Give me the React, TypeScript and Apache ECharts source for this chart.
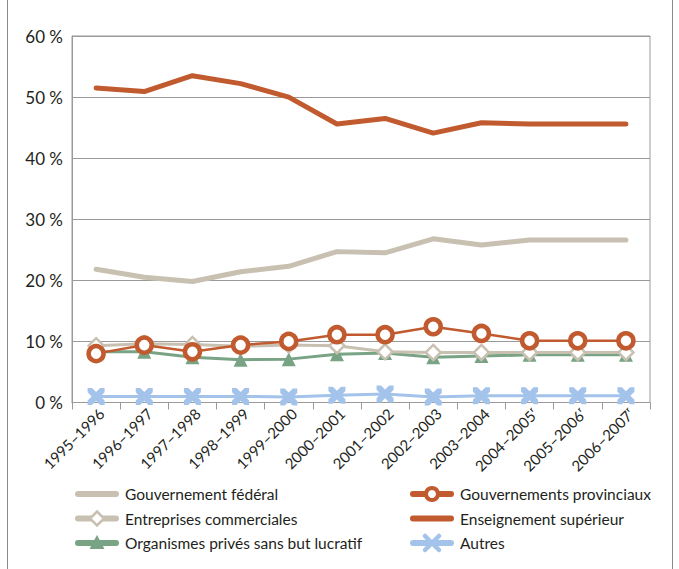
import React, { useEffect, useRef } from "react";
import * as echarts from "echarts";

// Fiscal years on the category axis
const years = [
  "1995–1996", "1996–1997", "1997–1998", "1998–1999", "1999–2000", "2000–2001",
  "2001–2002", "2002–2003", "2003–2004", "2004–2005ʳ", "2005–2006ʳ", "2006–2007ʳ",
];

// Share of funding by sector (%)
const federal = [21.8, 20.5, 19.8, 21.4, 22.3, 24.7, 24.5, 26.8, 25.8, 26.6, 26.6, 26.6];
const provincial = [8.0, 9.4, 8.3, 9.4, 10.0, 11.1, 11.1, 12.4, 11.3, 10.1, 10.1, 10.1];
const business = [9.3, 9.6, 9.5, 9.2, 9.4, 9.3, 8.3, 8.2, 8.2, 8.2, 8.2, 8.2];
const higherEd = [51.5, 50.9, 53.5, 52.2, 50.0, 45.6, 46.5, 44.1, 45.8, 45.6, 45.6, 45.6];
const nonProfit = [8.3, 8.3, 7.4, 7.0, 7.1, 7.9, 8.1, 7.4, 7.6, 7.8, 7.8, 7.8];
const others = [1.0, 1.0, 1.0, 1.0, 0.9, 1.2, 1.4, 0.9, 1.1, 1.1, 1.1, 1.1];

const yTicks = [0, 10, 20, 30, 40, 50, 60];

const S_FEDERAL = "Gouvernement fédéral";
const S_PROVINCIAL = "Gouvernements provinciaux";
const S_BUSINESS = "Entreprises commerciales";
const S_HIGHER_ED = "Enseignement supérieur";
const S_NON_PROFIT = "Organismes privés sans but lucratif";
const S_OTHERS = "Autres";

const RUST = "#c15a2e";
const BEIGE = "#c8c0b1";
const GREEN = "#79a385";
const BLUE = "#a3c3ea";
const TEXT = "#231f20";
const FONT = "Lato, 'Open Sans', sans-serif";

const X_SYMBOL =
  "path://M0,0 L2.6,0 L5,2.4 L7.4,0 L10,0 L10,2.6 L7.6,5 L10,7.4 L10,10 L7.4,10 L5,7.6 L2.6,10 L0,10 L0,7.4 L2.4,5 L0,2.6 Z";

type Marker = "none" | "circle" | "diamond" | "triangle" | "cross";

// Legend entries, laid out in two columns of three rows
const legendEntries: { name: string; color: string; marker: Marker; col: number; row: number }[] = [
  { name: S_FEDERAL, color: BEIGE, marker: "none", col: 0, row: 0 },
  { name: S_BUSINESS, color: BEIGE, marker: "diamond", col: 0, row: 1 },
  { name: S_NON_PROFIT, color: GREEN, marker: "triangle", col: 0, row: 2 },
  { name: S_PROVINCIAL, color: RUST, marker: "circle", col: 1, row: 0 },
  { name: S_HIGHER_ED, color: RUST, marker: "none", col: 1, row: 1 },
  { name: S_OTHERS, color: BLUE, marker: "cross", col: 1, row: 2 },
];

function legendGraphics() {
  const colX = [76, 411];
  const rowY = [494, 518.5, 543];
  const out: any[] = [];
  for (const e of legendEntries) {
    const x0 = colX[e.col];
    const y = rowY[e.row];
    const cx = x0 + 21;
    out.push({
      type: "line",
      shape: { x1: x0 + 2, y1: y, x2: x0 + 40, y2: y },
      style: { stroke: e.color, lineWidth: 6, lineCap: "round" },
    });
    if (e.marker === "circle") {
      out.push({
        type: "circle",
        shape: { cx, cy: y, r: 6 },
        style: { fill: "#ffffff", stroke: e.color, lineWidth: 4 },
      });
    } else if (e.marker === "diamond") {
      out.push({
        type: "polygon",
        shape: { points: [[cx, y - 7], [cx + 7, y], [cx, y + 7], [cx - 7, y]] },
        style: { fill: "#ffffff", stroke: e.color, lineWidth: 2.5 },
      });
    } else if (e.marker === "triangle") {
      out.push({
        type: "polygon",
        shape: { points: [[cx, y - 8], [cx + 7.5, y + 6], [cx - 7.5, y + 6]] },
        style: { fill: e.color },
      });
    } else if (e.marker === "cross") {
      out.push({
        type: "line",
        shape: { x1: cx - 7, y1: y - 7, x2: cx + 7, y2: y + 7 },
        style: { stroke: e.color, lineWidth: 4.5, lineCap: "round" },
      });
      out.push({
        type: "line",
        shape: { x1: cx - 7, y1: y + 7, x2: cx + 7, y2: y - 7 },
        style: { stroke: e.color, lineWidth: 4.5, lineCap: "round" },
      });
    }
    out.push({
      type: "text",
      x: x0 + 49,
      y,
      style: {
        text: e.name,
        fontFamily: FONT,
        fontSize: 15.5,
        fill: TEXT,
        verticalAlign: "middle",
        align: "left",
      },
    });
  }
  return out;
}

export default function App() {
  const ref = useRef<HTMLDivElement>(null);

  useEffect(() => {
    if (!ref.current) return;
    const chart = echarts.init(ref.current, null, { renderer: "svg" });

    chart.setOption({
      animation: false,
      backgroundColor: "#ffffff",
      grid: {
        left: 72,
        right: 29,
        top: 36,
        bottom: 166.5,
        show: true,
        borderColor: "#9a9a9a",
        borderWidth: 1,
      },
      xAxis: {
        type: "category",
        data: years,
        boundaryGap: true,
        axisLine: { lineStyle: { color: "#9a9a9a", width: 1 } },
        axisTick: { show: true, interval: 0, length: 7, lineStyle: { color: "#9a9a9a" } },
        axisLabel: {
          interval: 0,
          rotate: 45,
          margin: 3,
          verticalAlign: "top",
          fontFamily: FONT,
          fontSize: 15,
          color: TEXT,
        },
      },
      yAxis: {
        type: "value",
        min: yTicks[0],
        max: yTicks[yTicks.length - 1],
        interval: 10,
        axisLine: { show: true, lineStyle: { color: "#9a9a9a", width: 1 } },
        axisTick: { show: false },
        splitLine: { lineStyle: { color: "#9a9a9a", width: 1 } },
        axisLabel: {
          margin: 9,
          fontFamily: FONT,
          fontSize: 17,
          color: TEXT,
          formatter: (v: number) => `${v} %`,
        },
      },
      graphic: [
        { type: "line", shape: { x1: 7.5, y1: 0, x2: 7.5, y2: 569 }, style: { stroke: "#8a8a8a", lineWidth: 1 } },
        { type: "line", shape: { x1: 672.5, y1: 0, x2: 672.5, y2: 569 }, style: { stroke: "#8a8a8a", lineWidth: 1 } },
        ...legendGraphics(),
      ],
      series: [
        {
          name: S_OTHERS,
          type: "line",
          data: others,
          z: 2,
          symbol: X_SYMBOL,
          symbolSize: 17,
          itemStyle: { color: BLUE },
          lineStyle: { color: BLUE, width: 3 },
        },
        {
          name: S_NON_PROFIT,
          type: "line",
          data: nonProfit,
          z: 3,
          symbol: "triangle",
          symbolSize: 14,
          itemStyle: { color: GREEN },
          lineStyle: { color: GREEN, width: 3 },
        },
        {
          name: S_BUSINESS,
          type: "line",
          data: business,
          z: 4,
          symbol: "diamond",
          symbolSize: 15,
          itemStyle: { color: "#ffffff", borderColor: BEIGE, borderWidth: 2.5 },
          lineStyle: { color: BEIGE, width: 3 },
        },
        {
          name: S_FEDERAL,
          type: "line",
          data: federal,
          z: 5,
          symbol: "none",
          itemStyle: { color: BEIGE },
          lineStyle: { color: BEIGE, width: 5, cap: "round", join: "round" },
        },
        {
          name: S_HIGHER_ED,
          type: "line",
          data: higherEd,
          z: 6,
          symbol: "none",
          itemStyle: { color: RUST },
          lineStyle: { color: RUST, width: 5, cap: "round", join: "round" },
        },
        {
          name: S_PROVINCIAL,
          type: "line",
          data: provincial,
          z: 7,
          symbol: "circle",
          symbolSize: 15,
          itemStyle: { color: "#ffffff", borderColor: RUST, borderWidth: 4.5 },
          lineStyle: { color: RUST, width: 2.5 },
        },
      ],
    });

    return () => chart.dispose();
  }, []);

  return (
    <div
      ref={ref}
      style={{ position: "fixed", left: 0, top: 0, width: 679, height: 569 }}
    />
  );
}
